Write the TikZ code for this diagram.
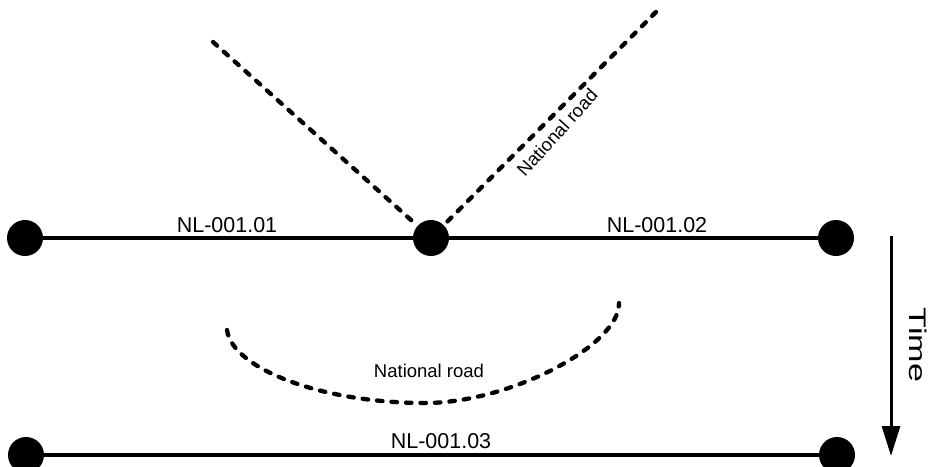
\documentclass[tikz,border=0pt]{standalone}
\usepackage{fontspec}
\setmainfont{Liberation Sans}
\usetikzlibrary{arrows.meta}
\begin{document}
\begin{tikzpicture}[x=1pt,y=1pt,
  dot/.style={circle,fill=black,draw=none,minimum size=36pt,inner sep=0pt},
  road/.style={line width=4pt},
  dashroad/.style={line width=4.3pt,line cap=round,dash pattern=on 5.5pt off 9pt},
  lbl/.style={font=\fontsize{21.5}{24}\selectfont,inner sep=0pt,anchor=base},
  nlbl/.style={font=\fontsize{18.5}{22}\selectfont,inner sep=0pt,anchor=base}]
\useasboundingbox (0,0) rectangle (937,-466);
% nodes
\node[dot] (a) at (25,-238) {};
\node[dot] (m) at (431,-238) {};
\node[dot] (b) at (836,-238) {};
\node[dot] (c) at (26,-455) {};
\node[dot] (d) at (837,-455) {};
% roads
\draw[road] (a.center) -- (m.center);
\draw[road] (m.center) -- (b.center);
\draw[road] (c.center) -- (d.center);
% labels
\node[lbl] (l1) at (227,-232) {NL-001.01};
\node[lbl] (l2) at (657,-232) {NL-001.02};
\node[lbl] (l3) at (441,-448) {NL-001.03};
% dashed national roads
\coordinate (p1) at (213,-42);
\coordinate (p2) at (656,-12);
\draw[dashroad] (p1) -- (m);
\draw[dashroad] (p2) -- (m);
\node[nlbl,rotate=48,anchor=base] (n1) at (562,-137) {National road};
% curved national road
\coordinate (q1) at (227,-330);
\coordinate (q2) at (425,-403);
\coordinate (q3) at (619,-303);
\draw[dashroad] (q1) .. controls (232,-368) and (320,-403) .. (q2)
  .. controls (510,-403) and (620,-345) .. (q3);
\node[nlbl] (n2) at (429,-377) {National road};
% time arrow
\coordinate (t1) at (891,-236);
\coordinate (t2) at (891,-456);
\draw[line width=3pt,-{Triangle[length=30pt,width=18pt]}] (t1) -- (t2);
\node[rotate=-90,inner sep=0pt,font=\fontsize{24}{28}\selectfont] (tm) at (918,-345) {\scalebox{1.42}[1]{Time}};
\end{tikzpicture}
\end{document}
